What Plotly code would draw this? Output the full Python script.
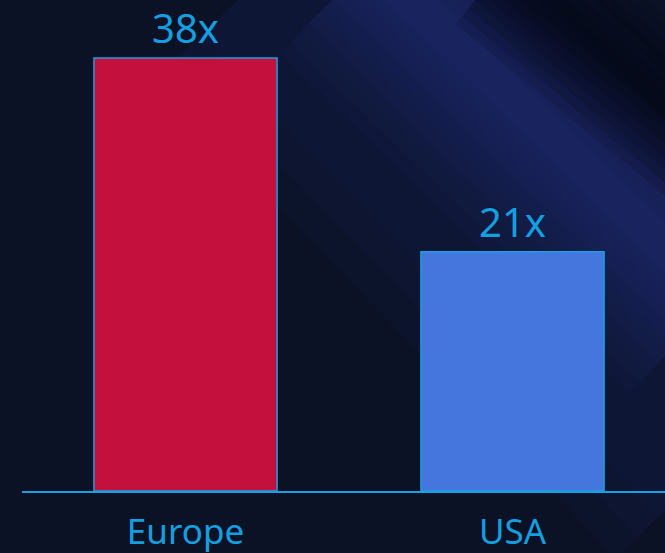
import math
import plotly.graph_objects as go

regions = ["Europe", "USA"]
multiples = [38, 21]
value_labels = ["38x", "21x"]
bar_colors = ["#C4103C", "#4476DE"]

W, H = 665, 553
ML, MR, MT, MB = 22, 0, 0, 62
PW, PH = W - ML - MR, H - MT - MB


def px(x):
    return (x - ML) / PW


def py(y):
    return (H - MB - y) / PH


fig = go.Figure()
fig.add_trace(go.Bar(
    x=regions, y=multiples, width=0.56,
    marker=dict(color=bar_colors, line=dict(color="#1AA0E0", width=1.5)),
    hoverinfo="skip",
))

for r, v, t in zip(regions, multiples, value_labels):
    fig.add_annotation(x=r, y=v, text=t, showarrow=False, yanchor="bottom",
                       yshift=1, font=dict(family="Noto Sans", size=40, color="#14A0E0"))

# decorative background glow (soft, layered bands)
shapes = []


def soft_band(p0, p1, widths, color, opacity):
    dx, dy = p1[0] - p0[0], p1[1] - p0[1]
    L = math.hypot(dx, dy)
    nx, ny = dy / L, -dx / L
    for w in widths:
        pts = [(p0[0] + nx * w, p0[1] + ny * w), (p1[0] + nx * w, p1[1] + ny * w),
               (p1[0] - nx * w, p1[1] - ny * w), (p0[0] - nx * w, p0[1] - ny * w)]
        path = "M " + " L ".join(f"{px(a):.4f},{py(b):.4f}" for a, b in pts) + " Z"
        shapes.append(dict(type="path", xref="paper", yref="paper", path=path,
                           fillcolor=color, opacity=opacity, line=dict(width=0), layer="below"))


# faint wide blue haze toward lower right
soft_band((300, -60), (760, 420), [200, 170, 140], "#1a2c60", 0.10)
# blue streak
soft_band((370, -40), (720, 300), [130, 115, 100, 88, 76, 65, 55, 45, 36, 27, 18], "#3558b0", 0.04)
# dark streak top-right
soft_band((500, -30), (720, 150), [70, 60, 50, 40, 30, 20, 10], "#000000", 0.10)

fig.update_layout(
    width=W, height=H,
    margin=dict(l=ML, r=MR, t=MT, b=MB, autoexpand=False),
    paper_bgcolor="#0B1226",
    plot_bgcolor="rgba(0,0,0,0)",
    showlegend=False,
    shapes=shapes,
    xaxis=dict(range=[-0.5, -0.5 + PW / 327], showgrid=False, zeroline=False,
               showline=True, linecolor="#1AA0E0", linewidth=2, ticks="",
               tickfont=dict(family="Noto Sans", size=35, color="#14A0E0"),
               ticklabelstandoff=9, automargin=False, fixedrange=True),
    yaxis=dict(range=[0, PH / (433 / 38)], visible=False, automargin=False, fixedrange=True),
)

fig.write_html("out.html", config={"displayModeBar": False, "staticPlot": True},
               post_script="document.body.style.margin='0';document.body.style.padding='0';"
                           "document.documentElement.style.overflow='hidden';")
